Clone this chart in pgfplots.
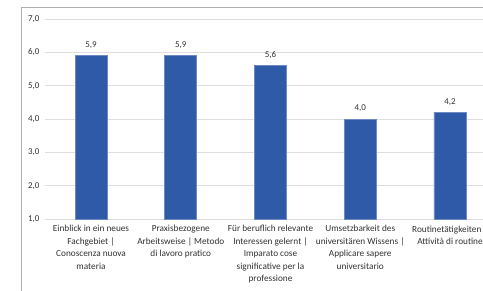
\documentclass[border=0pt]{standalone}
\usepackage{pgfplots}
\pgfplotsset{compat=1.18}
\usepackage{fontspec}
\setmainfont{Carlito}
\definecolor{barblue}{RGB}{46,90,168}
\definecolor{gridgray}{RGB}{222,222,222}
\definecolor{framegray}{RGB}{175,175,175}
\definecolor{txt}{RGB}{50,50,50}
\begin{document}
\begin{tikzpicture}[x=1bp,y=1bp]
\path[use as bounding box] (0,0) rectangle (483,-290);
\clip (0,0) rectangle (483,-290);
\draw[framegray, line width=1bp] (21,-300) -- (21,-7) -- (500,-7);
\begin{axis}[
  at={(45bp,-219bp)}, anchor=south west,
  scale only axis, width=451bp, height=200bp,
  xmin=-0.513, xmax=4.513, ymin=1, ymax=7,
  ytick={1,2,3,4,5,6,7},
  ymajorgrids, grid style={gridgray, line width=0.9bp},
  axis line style={draw=none},
  major tick length=0pt,
  xtick={0,1,2,3,4},
  xticklabels={
    {Einblick in ein neues\\Fachgebiet |\\Conoscenza nuova\\materia},
    {Praxisbezogene\\Arbeitsweise | Metodo\\di lavoro pratico},
    {Für beruflich relevante\\Interessen gelernt |\\Imparato cose\\significative per la\\professione},
    {Umsetzbarkeit des\\universitären Wissens |\\Applicare sapere\\universitario},
    {Routinetätigkeiten |\\Attività di routine}},
  xticklabel style={align=center, font=\fontsize{9.3}{12.5}\selectfont, text=txt, anchor=north, yshift=-3bp},
  yticklabel style={font=\fontsize{9}{10}\selectfont, text=txt, xshift=-2bp},
  /pgf/number format/assume math mode=true,
  yticklabel={\pgfmathprintnumber[use comma, fixed, fixed zerofill, precision=1]{\tick}},
  nodes near coords={\pgfmathprintnumber[use comma, fixed, fixed zerofill, precision=1]{\pgfplotspointmeta}},
  every node near coord/.append style={font=\fontsize{9}{10}\selectfont, text=txt, yshift=3.5bp},
  ybar, bar width=0.357,
]
\addplot[fill=barblue, draw=barblue!70!white, line width=0.6bp] coordinates {(0,5.9) (1,5.9) (2,5.6) (3,4.0) (4,4.2)};
\end{axis}
\end{tikzpicture}
\end{document}
